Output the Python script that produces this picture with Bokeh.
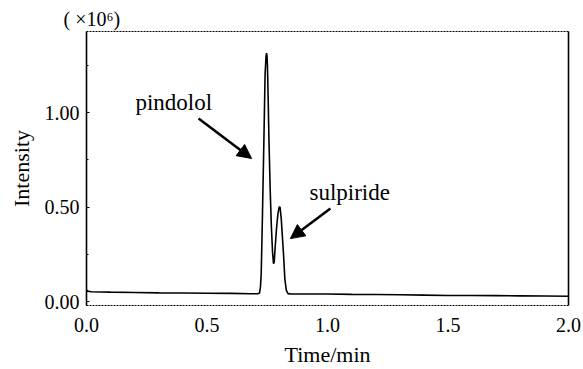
from bokeh.plotting import figure
from bokeh.models import LinearAxis, Label, Arrow, NormalHead, FixedTicker, Range1d
from bokeh.embed import file_html
from bokeh.resources import INLINE

# Chromatogram trace: retention time (min) vs. intensity (x10^6)
time_min = [0.000, 0.004, 0.020, 0.100, 0.200, 0.300, 0.400, 0.500, 0.600, 0.680, 0.710,
            0.718, 0.722, 0.725, 0.730, 0.736, 0.741, 0.745, 0.747, 0.749, 0.751, 0.754,
            0.757, 0.762, 0.767, 0.772, 0.776, 0.779, 0.782, 0.788, 0.794, 0.799, 0.803,
            0.808, 0.813, 0.818, 0.823, 0.829, 0.836, 0.850, 0.900, 1.000, 1.100, 1.200,
            1.300, 1.400, 1.500, 1.600, 1.700, 1.800, 1.900, 2.000]
intensity = [0.060, 0.055, 0.052, 0.050, 0.048, 0.046, 0.045, 0.044, 0.043, 0.041, 0.041,
             0.045, 0.080, 0.150, 0.450, 0.850, 1.200, 1.300, 1.315, 1.300, 1.240, 1.060,
             0.860, 0.600, 0.400, 0.260, 0.200, 0.210, 0.270, 0.380, 0.460, 0.500, 0.500,
             0.440, 0.340, 0.240, 0.120, 0.060, 0.042, 0.040, 0.040, 0.040, 0.038, 0.037,
             0.036, 0.034, 0.032, 0.032, 0.031, 0.030, 0.029, 0.028]

x_ticks = [0.0, 0.5, 1.0, 1.5, 2.0]
y_ticks = [0.0, 0.5, 1.0]
y_minor = [0.25, 0.75, 1.25]

# Peak annotations: (name, label x, label y, arrow start, arrow end)
peak_names = ["pindolol", "sulpiride"]
label_pos = [(0.203, 1.053), (0.925, 0.577)]
arrow_start = [(0.465, 0.968), (1.012, 0.492)]
arrow_end = [(0.685, 0.757), (0.846, 0.333)]

SERIF = "Liberation Serif"

p = figure(width=583, height=369, output_backend="svg", toolbar_location=None,
           x_range=Range1d(0.0, 2.0), y_range=Range1d(-0.021, 1.429),
           min_border_left=86, min_border_right=15, min_border_top=31, min_border_bottom=64)
p.background_fill_color = "white"
p.border_fill_color = "white"
p.grid.visible = False
p.outline_line_color = "black"
p.outline_line_dash = "2 1"
p.outline_line_width = 1

# Scale factor note above the y axis
p.title.text = "( \u00d710\u2076)"
p.title.align = "left"
p.title.offset = -23
p.title.text_font = SERIF
p.title.text_font_size = "20px"
p.title.text_font_style = "normal"
p.title.text_color = "black"
p.title.standoff = 3

p.line(time_min, intensity, line_color="black", line_width=1.6)

xa = p.xaxis[0]
xa.ticker = FixedTicker(ticks=x_ticks)
xa.major_label_overrides = {0.0: "0.0", 0.5: "0.5", 1.0: "1.0", 1.5: "1.5", 2.0: "2.0"}
xa.axis_line_color = None
xa.major_tick_line_color = None
xa.minor_tick_line_color = None
xa.major_label_text_font = SERIF
xa.major_label_text_font_size = "20px"
xa.major_label_text_color = "black"
xa.major_label_standoff = 6
xa.axis_label = "Time/min"
xa.axis_label_text_font = SERIF
xa.axis_label_text_font_size = "22px"
xa.axis_label_text_font_style = "normal"
xa.axis_label_text_color = "black"
xa.axis_label_standoff = 7

ya = p.yaxis[0]
ya.ticker = FixedTicker(ticks=y_ticks, minor_ticks=y_minor)
ya.major_label_overrides = {0.0: "0.00", 0.5: "0.50", 1.0: "1.00"}
ya.axis_line_color = "black"
ya.axis_line_width = 1.6
ya.major_tick_in = 3
ya.major_tick_out = 0
ya.minor_tick_in = 2
ya.minor_tick_out = 0
ya.major_tick_line_color = "black"
ya.minor_tick_line_color = "black"
ya.major_label_text_font = SERIF
ya.major_label_text_font_size = "20px"
ya.major_label_text_color = "black"
ya.major_label_standoff = 7
ya.axis_label = "Intensity"
ya.axis_label_text_font = SERIF
ya.axis_label_text_font_size = "22px"
ya.axis_label_text_font_style = "normal"
ya.axis_label_text_color = "black"
ya.axis_label_standoff = 8

# Solid right edge of the frame
ra = LinearAxis(ticker=FixedTicker(ticks=[]), major_label_text_font_size="0px",
                axis_line_color="black", axis_line_width=1.6,
                major_tick_line_color=None, minor_tick_line_color=None)
p.add_layout(ra, "right")

for name, (lx, ly), (sx, sy), (ex, ey) in zip(peak_names, label_pos, arrow_start, arrow_end):
    p.add_layout(Label(x=lx, y=ly, text=name, text_font=SERIF, text_font_size="23px",
                       text_color="black", text_baseline="middle", text_align="left"))
    p.add_layout(Arrow(x_start=sx, y_start=sy, x_end=ex, y_end=ey, line_width=2.5,
                       line_color="black",
                       end=NormalHead(size=14, fill_color="black", line_color="black")))

open("out.html", "w").write(file_html(p, INLINE))
